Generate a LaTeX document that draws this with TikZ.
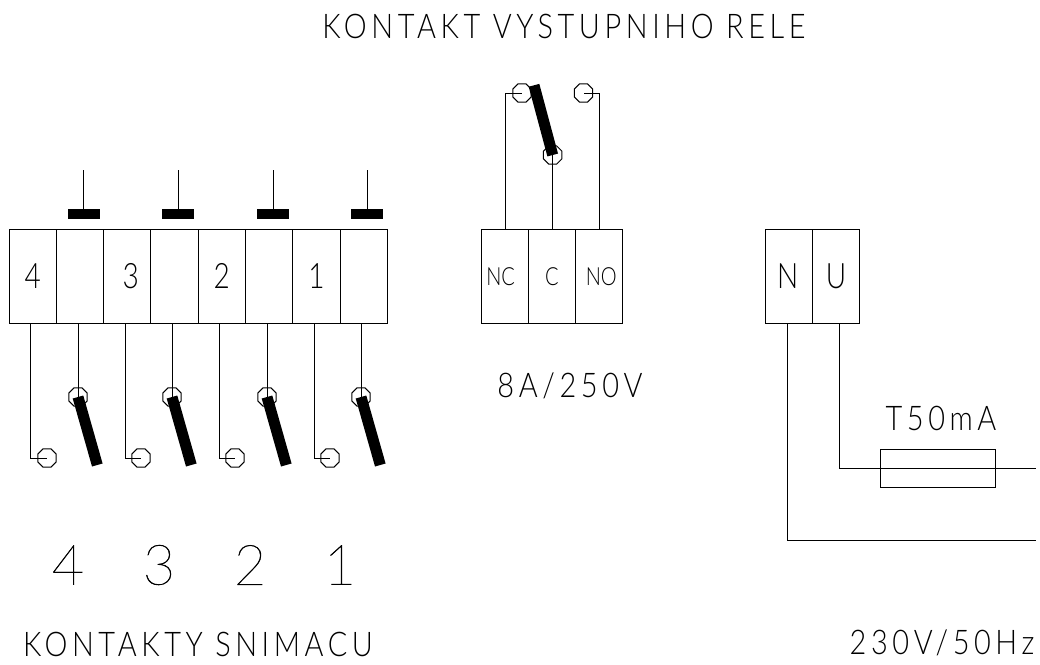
\documentclass[tikz,border=0pt]{standalone}
\usepackage{fontspec}
\usepackage{tikz}
\usetikzlibrary{positioning,shapes.geometric}
\newfontfamily\cadfont[FakeStretch=0.85,LetterSpace=13.5]{Lato Light}
\newfontfamily\cadtight[FakeStretch=0.8]{Lato Light}
\newfontfamily\cadthin[FakeBold=0.8]{Lato Hairline}

\begin{document}
\begin{tikzpicture}[x=1pt, y=-1pt, line width=1pt,
  cell/.style={draw,rectangle,minimum width=47.3pt,minimum height=94.5pt,inner sep=0pt,outer sep=0pt,font=\cadtight\fontsize{35}{35}\selectfont},
  smallcell/.style={cell,font=\cadtight\fontsize{25}{25}\selectfont},
  title/.style={inner sep=0pt,font=\cadfont\fontsize{34}{34}\selectfont},
  digit/.style={inner sep=0pt,font=\cadthin\fontsize{56}{56}\selectfont},
  pin/.style={draw,regular polygon,regular polygon sides=8,minimum size=20pt,inner sep=0pt,outer sep=0pt},
  blade/.style={line width=11pt},
  actuator/.style={fill=black,minimum width=32pt,minimum height=10pt,inner sep=0pt,outer sep=0pt}]
   \useasboundingbox (0,0) rectangle (1040,664);
   % texts
   \node[title] (head) at (564,26) {KONTAKT VYSTUPNIHO RELE};
   \node[title] (foot) at (198,644) {KONTAKTY SNIMACU};
   \node[title] (mains) at (942,643) {230V/50Hz};
   \node[title] (rating) at (570,386) {8A/250V};
   \node[title] (fusename) at (941,418) {T50mA};
   \node[digit] (d4) at (68,565) {4};
   \node[digit] (d3) at (159,565) {3};
   \node[digit] (d2) at (250,565) {2};
   \node[digit] (d1) at (340,565) {1};
   % sensor terminals
   \node[cell,anchor=north west] (a1) at (9,229) {4};
   \node[cell,right=0pt of a1] (a2) {};
   \node[cell,right=0pt of a2] (a3) {\kern7pt 3};
   \node[cell,right=0pt of a3] (a4) {};
   \node[cell,right=0pt of a4] (a5) {2};
   \node[cell,right=0pt of a5] (a6) {};
   \node[cell,right=0pt of a6] (a7) {1};
   \node[cell,right=0pt of a7] (a8) {};
   % relay terminals
   \node[smallcell,anchor=north west] (r1) at (481,229) {NC\kern8pt};
   \node[smallcell,right=0pt of r1] (r2) {C};
   \node[smallcell,right=0pt of r2] (r3) {\kern4pt NO};
   % mains terminals
   \node[cell,anchor=north west] (m1) at (765,229) {N\kern2pt};
   \node[cell,right=0pt of m1] (m2) {U};
   \node[draw,rectangle,minimum width=115pt,minimum height=37.5pt,inner sep=0pt,outer sep=0pt] (fuse) at (938,468.3) {};
   % push buttons
   \node[actuator] (k1) at (83.5,214) {};
   \node[actuator] (k2) at (178,214) {};
   \node[actuator] (k3) at (273,214) {};
   \node[actuator] (k4) at (367,214) {};
   \coordinate (t1) at (83.5,170);
   \coordinate (t2) at (178,170);
   \coordinate (t3) at (273,170);
   \coordinate (t4) at (367,170);
   \draw (t1) -- (k1);
   \draw (t2) -- (k2);
   \draw (t3) -- (k3);
   \draw (t4) -- (k4);
   % sensor contacts
   \node[pin] (p1) at (47,458) {};
   \node[pin] (q1) at (78,397) {};
   \node[pin] (p2) at (141,458) {};
   \node[pin] (q2) at (172,397) {};
   \node[pin] (p3) at (235,458) {};
   \node[pin] (q3) at (267,397) {};
   \node[pin] (p4) at (330,458) {};
   \node[pin] (q4) at (361,397) {};
   \coordinate (b1) at (97.3,465);
   \coordinate (b2) at (191.3,465);
   \coordinate (b3) at (286.3,465);
   \coordinate (b4) at (380.3,465);
   \draw ([xshift=-2pt]a1.south) |- (p1.center);
   \draw ([xshift=-2pt]a3.south) |- (p2.center);
   \draw ([xshift=-2pt]a5.south) |- (p3.center);
   \draw ([xshift=-2pt]a7.south) |- (p4.center);
   \draw (q1.center) -- (q1.center |- a2.south);
   \draw (q2.center) -- (q2.center |- a4.south);
   \draw (q3.center) -- (q3.center |- a6.south);
   \draw (q4.center) -- (q4.center |- a8.south);
   \draw[blade] (q1.center) -- (b1);
   \draw[blade] (q2.center) -- (b2);
   \draw[blade] (q3.center) -- (b3);
   \draw[blade] (q4.center) -- (b4);
   % relay contact
   \node[pin] (nc) at (522,93) {};
   \node[pin] (no) at (583.5,93) {};
   \node[pin] (com) at (552.7,155) {};
   \coordinate (b5) at (534,85.3);
   \draw ([xshift=0.7pt]r1.north) |- (nc.center);
   \draw (r3.north) |- (no.center);
   \draw (com.center) -- (com.center |- r2.north);
   \draw[blade] (com.center) -- (b5);
   % mains wires
   \coordinate (e1) at (1036,468.3);
   \coordinate (e2) at (1036,540);
   \draw ([xshift=3.8pt]m2.south) |- (e1);
   \draw ([xshift=-1.3pt]m1.south) |- (e2);
\end{tikzpicture}
\end{document}
